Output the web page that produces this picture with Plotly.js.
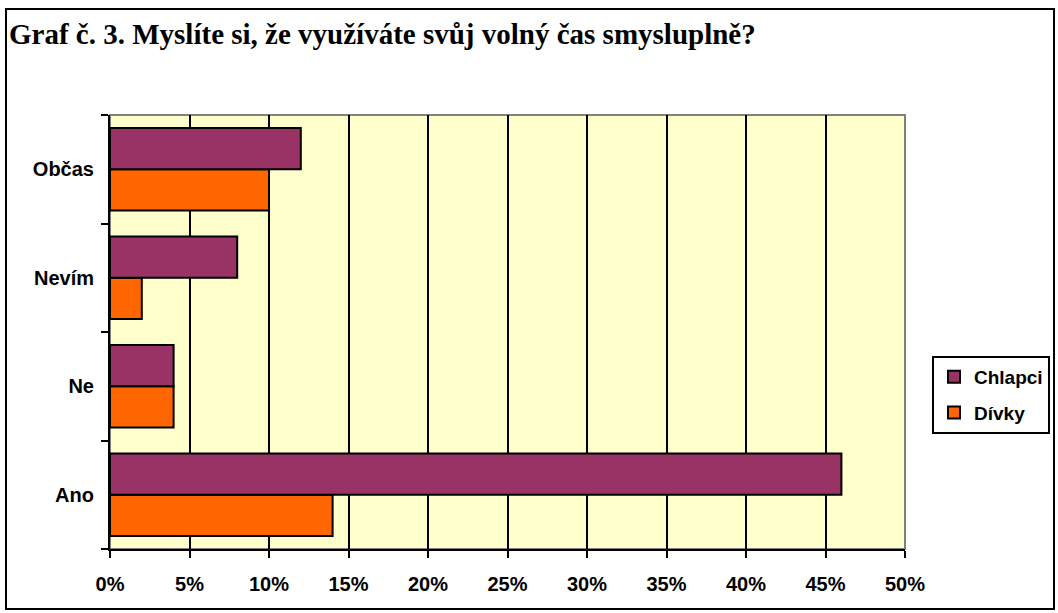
<!DOCTYPE html>
<html>
<head>
<meta charset="utf-8">
<script src="https://cdn.plot.ly/plotly-3.0.1.min.js"></script>
<style>
html,body{margin:0;padding:0;background:#fff;}
#wrap{position:absolute;left:0;top:0;width:1058px;height:613px;}
#frame{position:absolute;left:5px;top:8px;width:1046px;height:598px;border:2px solid #000;pointer-events:none;}
#chart{position:absolute;left:0;top:0;width:1058px;height:613px;}
</style>
</head>
<body>
<div id="wrap"><div id="chart"></div><div id="frame"></div></div>
<script>
const categories = ["Ano", "Ne", "Nevím", "Občas"];
const chlapci = [46, 4, 8, 12];
const divky = [14, 4, 2, 10];
const xTickVals = [0, 5, 10, 15, 20, 25, 30, 35, 40, 45, 50];
const xTickText = ["0%", "5%", "10%", "15%", "20%", "25%", "30%", "35%", "40%", "45%", "50%"];

const tickFont = {family: "Liberation Sans, Arial, sans-serif", size: 20, color: "#000", weight: "bold"};

const traces = [
  {type: "bar", orientation: "h", name: "Dívky", legendgroup: "d", legendrank: 2, y: categories, x: divky,
   marker: {color: "#FF6600", line: {color: "#000", width: 2}}, hoverinfo: "x+y"},
  {type: "bar", orientation: "h", name: "Chlapci", legendgroup: "c", legendrank: 1, y: categories, x: chlapci,
   marker: {color: "#993366", line: {color: "#000", width: 2}}, hoverinfo: "x+y"}
];

const layout = {
  width: 1058, height: 613,
  margin: {l: 110, r: 153, t: 115, b: 64, autoexpand: false},
  paper_bgcolor: "#fff",
  plot_bgcolor: "#FFFFCC",
  barmode: "group",
  bargap: 0.24,
  bargroupgap: 0,
  title: {
    text: "<b>Graf č. 3. Myslíte si, že využíváte svůj volný čas smysluplně?</b>",
    font: {family: "Liberation Serif, Times New Roman, serif", size: 29, color: "#000", weight: "bold"},
    x: 9/1058, xanchor: "left", xref: "container",
    y: 1 - 34/613, yanchor: "middle", yref: "container"
  },
  xaxis: {
    range: [0, 50], tickvals: xTickVals, ticktext: xTickText,
    showgrid: true, gridcolor: "#000", gridwidth: 2,
    showline: true, linecolor: "#000", linewidth: 2,
    ticks: "outside", ticklen: 7, tickwidth: 2, tickcolor: "#000",
    ticklabelstandoff: 9,
    tickfont: tickFont, zeroline: false, fixedrange: true
  },
  yaxis: {
    type: "category", categoryarray: categories, categoryorder: "array",
    showgrid: false, showline: true, linecolor: "#000", linewidth: 2,
    ticks: "outside", ticklen: 7, tickwidth: 2, tickcolor: "#000",
    tickson: "boundaries", ticklabelstandoff: 10,
    tickfont: tickFont, fixedrange: true
  },
  shapes: [{type: "rect", xref: "paper", yref: "paper", x0: 0, x1: 1, y0: 0, y1: 1,
    line: {color: "#808080", width: 2}, layer: "below"}],
  legend: {
    xref: "container", yref: "container",
    x: 932/1058, xanchor: "left", y: 1 - 395/613, yanchor: "middle",
    traceorder: "grouped", tracegroupgap: 8,
    bordercolor: "#000", borderwidth: 2, bgcolor: "#fff",
    font: {family: "Liberation Sans, Arial, sans-serif", size: 19, color: "#000", weight: "bold"},
    itemwidth: 30
  },
  showlegend: true
};

Plotly.newPlot("chart", traces, layout, {displayModeBar: false, staticPlot: true});
</script>
</body>
</html>
